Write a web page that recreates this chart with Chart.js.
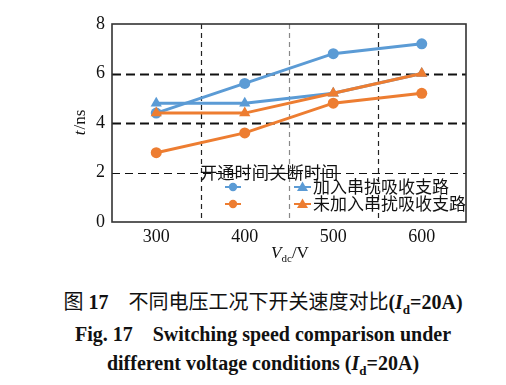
<!DOCTYPE html>
<html><head><meta charset="utf-8">
<script src="https://cdn.jsdelivr.net/npm/chart.js@4/dist/chart.umd.min.js"></script>
<style>
html,body{margin:0;padding:0;background:#fff;width:506px;height:385px;overflow:hidden;}
#wrap{position:absolute;left:0;top:0;width:506px;height:280px;}
.cap{position:absolute;left:0;width:526px;text-align:center;color:#111;white-space:nowrap;font-family:'Liberation Serif','Times New Roman',serif;line-height:1.2;}
.cn{font-family:'Noto Sans CJK SC',sans-serif;font-weight:400;}
</style></head><body>
<div id="wrap"><canvas id="c" width="506" height="280"></canvas></div>
<div class="cap" style="top:289px;font-size:20px;"><span class="cn">图</span> <b>17</b>&nbsp;&nbsp;&nbsp;&nbsp;<span class="cn">不同电压工况下开关速度对比</span><b>(<i>I</i><sub style="font-size:13px">d</sub>=20A)</b></div>
<div class="cap" style="top:322px;font-size:20px;font-weight:bold;">Fig. 17&nbsp;&nbsp;&nbsp;&nbsp;Switching speed comparison under</div>
<div class="cap" style="top:351px;font-size:20px;font-weight:bold;">different voltage conditions (<i>I</i><sub style="font-size:13px">d</sub>=20A)</div>
<script>
const voltages = [300, 400, 500, 600];
const onWithAbsorb = [4.4, 5.6, 6.8, 7.2];
const offWithAbsorb = [4.8, 4.8, 5.2, 6.0];
const onWithoutAbsorb = [2.8, 3.6, 4.8, 5.2];
const offWithoutAbsorb = [4.4, 4.4, 5.2, 6.0];
const yTicks = [0, 2, 4, 6, 8];
const xTicks = [300, 400, 500, 600];
const hLines = [2, 4, 6];
const vLines = [350, 450, 550];
const legendTitle = '开通时间关断时间';
const seriesNames = ['加入串扰吸收支路', '未加入串扰吸收支路'];

const BLUE = '#5B9BD5', ORANGE = '#ED7D31';
const pts = a => voltages.map((v, i) => ({x: v, y: a[i]}));

const deco = {
  id: 'deco',
  beforeDatasetsDraw(chart) {
    const {ctx, chartArea: a, scales: {x, y}} = chart;
    ctx.save();
    hLines.forEach(v => {
      const py = Math.round(y.getPixelForValue(v)) + 0.5;
      ctx.setLineDash(v === 2 ? [8, 5] : [9, 5]);
      ctx.lineWidth = v === 2 ? 1.2 : 2;
      ctx.strokeStyle = '#111';
      ctx.beginPath(); ctx.moveTo(a.left, py); ctx.lineTo(a.right, py); ctx.stroke();
    });
    vLines.forEach(v => {
      const px = Math.round(x.getPixelForValue(v)) + 0.5;
      ctx.setLineDash([5, 4]);
      ctx.lineWidth = 1.2;
      ctx.strokeStyle = v === 450 ? '#888' : '#222';
      ctx.beginPath(); ctx.moveTo(px, a.top); ctx.lineTo(px, a.bottom); ctx.stroke();
    });
    ctx.restore();
  },
  afterDatasetsDraw(chart) {
    const {ctx, chartArea: a} = chart;
    ctx.save();
    ctx.setLineDash([]);
    ctx.lineWidth = 1.6;
    ctx.strokeStyle = '#333';
    ctx.strokeRect(a.left, a.top, a.right - a.left, a.bottom - a.top);
    // legend
    ctx.fillStyle = '#111';
    ctx.textBaseline = 'middle';
    ctx.font = '17.3px "Noto Sans CJK SC", sans-serif';
    ctx.textAlign = 'left';
    ctx.fillText(legendTitle, 200, 172);
    ctx.font = '17px "Noto Sans CJK SC", sans-serif';
    const rows = [[BLUE, 187, seriesNames[0]], [ORANGE, 204, seriesNames[1]]];
    rows.forEach(([col, ry, name]) => {
      ctx.strokeStyle = col; ctx.fillStyle = col; ctx.lineWidth = 2;
      ctx.beginPath(); ctx.moveTo(225, ry); ctx.lineTo(241, ry); ctx.stroke();
      ctx.beginPath(); ctx.arc(233, ry, 4.2, 0, Math.PI * 2); ctx.fill();
      ctx.beginPath(); ctx.moveTo(294, ry); ctx.lineTo(311, ry); ctx.stroke();
      ctx.beginPath(); ctx.moveTo(302.5, ry - 5.5); ctx.lineTo(308, ry + 4); ctx.lineTo(297, ry + 4); ctx.closePath(); ctx.fill();
      ctx.fillStyle = '#111';
      ctx.fillText(name, 313, ry);
    });
    // y title
    ctx.save();
    ctx.translate(81, 123);
    ctx.rotate(-Math.PI / 2);
    ctx.textAlign = 'left';
    ctx.font = 'italic 17px "Liberation Serif", serif';
    const w1 = ctx.measureText('t').width;
    ctx.font = '17px "Liberation Serif", serif';
    const w2 = ctx.measureText('/ns').width;
    const sx = -(w1 + w2) / 2;
    ctx.font = 'italic 17px "Liberation Serif", serif';
    ctx.fillText('t', sx, 0);
    ctx.font = '17px "Liberation Serif", serif';
    ctx.fillText('/ns', sx + w1 + 1, 0);
    ctx.restore();
    // x title
    ctx.font = 'italic 17px "Liberation Serif", serif';
    const v1 = ctx.measureText('V').width;
    ctx.font = '11px "Liberation Serif", serif';
    const v2 = ctx.measureText('dc').width;
    ctx.font = '17px "Liberation Serif", serif';
    const v3 = ctx.measureText('/V').width;
    let tx = 290 - (v1 + v2 + v3) / 2;
    const ty = 254;
    ctx.font = 'italic 17px "Liberation Serif", serif';
    ctx.fillText('V', tx, ty); tx += v1;
    ctx.font = '11px "Liberation Serif", serif';
    ctx.fillText('dc', tx, ty + 5); tx += v2;
    ctx.font = '17px "Liberation Serif", serif';
    ctx.fillText('/V', tx, ty);
    ctx.restore();
  }
};

const mk = (data, col, shape, r) => ({
  data: pts(data), borderColor: col, backgroundColor: col, borderWidth: 3,
  pointStyle: shape, pointRadius: r, pointHoverRadius: r, pointBorderWidth: 0, tension: 0
});

new Chart(document.getElementById('c'), {
  type: 'line',
  data: {
    datasets: [
      mk(offWithoutAbsorb, ORANGE, 'triangle', 6.5),
      mk(onWithoutAbsorb, ORANGE, 'circle', 5.5),
      mk(offWithAbsorb, BLUE, 'triangle', 6.5),
      mk(onWithAbsorb, BLUE, 'circle', 5.5)
    ]
  },
  options: {
    responsive: false,
    animation: false,
    events: [],
    layout: {padding: {left: 0, top: 24, right: 40, bottom: 0}},
    plugins: {legend: {display: false}, tooltip: {enabled: false}},
    scales: {
      x: {
        type: 'linear', min: 250, max: 650,
        afterBuildTicks: s => { s.ticks = xTicks.map(v => ({value: v})); },
        grid: {display: false, drawTicks: false},
        border: {display: false},
        ticks: {color: '#111', font: {family: 'Liberation Serif', size: 18}, padding: 4},
        afterFit: s => { s.height = 58; }
      },
      y: {
        min: 0, max: 8,
        afterBuildTicks: s => { s.ticks = yTicks.map(v => ({value: v})); },
        grid: {display: false, drawTicks: false},
        border: {display: false},
        ticks: {color: '#111', font: {family: 'Liberation Serif', size: 18}, padding: 7},
        afterFit: s => { s.width = 112; }
      }
    }
  },
  plugins: [deco]
});
</script>
</body></html>
